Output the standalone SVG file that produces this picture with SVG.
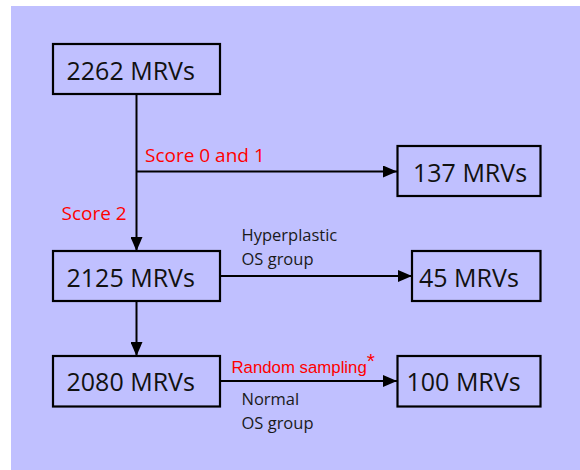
<svg xmlns="http://www.w3.org/2000/svg" width="580" height="470" viewBox="0 0 580 470">
<defs>
<style>
.bg{fill:#ffffff}
.panel{fill:#C0C0FF}
.box{fill:none;stroke:#000;stroke-width:2.2}
.lbl{font-family:"Open Sans","Noto Sans",sans-serif;font-size:25px;fill:#111}
.edge{stroke:#000;stroke-width:2;fill:none}
.red{font-family:"Open Sans","Noto Sans",sans-serif;font-size:19px;fill:#ff0000}
.note{font-family:"Open Sans","Noto Sans",sans-serif;font-size:16.5px;fill:#1a1a1a}
.redA{font-family:"Liberation Sans",Arial,sans-serif;font-size:16.8px;fill:#ff0000}
</style>
<marker id="ah" viewBox="0 0 14 12" refX="14" refY="6" markerWidth="14" markerHeight="12" markerUnits="userSpaceOnUse" orient="auto">
<path d="M0,0 L14,6 L0,12 Z" fill="#000"/>
</marker>
</defs>
<rect class="bg" x="0" y="0" width="580" height="470"/>
<rect class="panel" x="11" y="6" width="569" height="464"/>

<g id="connectors">
<line class="edge" x1="136.5" y1="94" x2="136.5" y2="251" marker-end="url(#ah)"/>
<line class="edge" x1="136.5" y1="171.5" x2="397" y2="171.5" marker-end="url(#ah)"/>
<line class="edge" x1="220" y1="276" x2="412" y2="276" marker-end="url(#ah)"/>
<line class="edge" x1="136.5" y1="301" x2="136.5" y2="356" marker-end="url(#ah)"/>
<line class="edge" x1="220" y1="381" x2="397" y2="381" marker-end="url(#ah)"/>
<text class="red" x="145" y="162">Score 0 and 1</text>
<text class="red" x="61.5" y="220">Score 2</text>
<text class="note" x="241.5" y="241">Hyperplastic</text>
<text class="note" x="241.5" y="265">OS group</text>
<text class="redA" x="231.5" y="372.5">Random sampling<tspan font-size="21" dy="-5">*</tspan></text>
<text class="note" x="241.5" y="404.5">Normal</text>
<text class="note" x="241.5" y="428.5">OS group</text>
</g>

<g id="n2262">
<rect class="box" x="53" y="44" width="167" height="50"/>
<text class="lbl" x="66.5" y="80">2262 MRVs</text>
</g>
<g id="n137">
<rect class="box" x="397.5" y="146" width="143" height="50"/>
<text class="lbl" x="413" y="181.5">137 MRVs</text>
</g>
<g id="n2125">
<rect class="box" x="53" y="251" width="167" height="50"/>
<text class="lbl" x="66.5" y="287">2125 MRVs</text>
</g>
<g id="n45">
<rect class="box" x="412" y="251" width="128.5" height="50"/>
<text class="lbl" x="419" y="287">45 MRVs</text>
</g>
<g id="n2080">
<rect class="box" x="53" y="356" width="167" height="50.5"/>
<text class="lbl" x="66.5" y="391">2080 MRVs</text>
</g>
<g id="n100">
<rect class="box" x="397.5" y="356" width="143" height="50.5"/>
<text class="lbl" x="406.5" y="391">100 MRVs</text>
</g>
</svg>
